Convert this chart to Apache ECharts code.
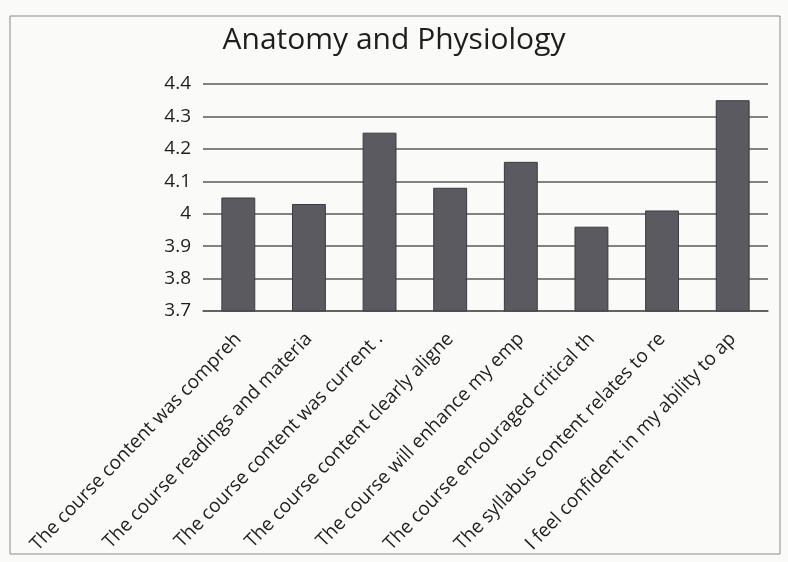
<!DOCTYPE html>
<html>
<head>
<meta charset="utf-8">
<script src="https://cdn.jsdelivr.net/npm/echarts@6/dist/echarts.min.js"></script>
<style>
  html, body { margin: 0; padding: 0; background: #fafaf8; }
  #chart { width: 788px; height: 562px; }
</style>
</head>
<body>
<div id="chart"></div>
<script>
// Survey item labels (as printed, cut off at the cell width)
const categories = [
  "The course content was compreh",
  "The course readings and materia",
  "The course content was current .",
  "The course content clearly aligne",
  "The course will enhance my emp",
  "The course encouraged critical th",
  "The syllabus content relates to re",
  "I feel confident in my ability to ap"
];

// Mean rating for each item
const meanScores = [4.05, 4.03, 4.25, 4.08, 4.16, 3.96, 4.01, 4.35];

// Value axis range
const yMin = 3.7;
const yMax = 4.4;
const yStep = 0.1;

const chart = echarts.init(document.getElementById('chart'));
const font = '"Open Sans", "Noto Sans", sans-serif';

chart.setOption({
  backgroundColor: '#fafaf8',
  animation: false,
  title: {
    text: 'Anatomy and Physiology',
    left: 'center',
    top: 20,
    textStyle: { fontFamily: font, fontSize: 30, fontWeight: 'normal', color: '#1e1e1e' }
  },
  graphic: [{
    type: 'rect',
    shape: { x: 10, y: 16, width: 770, height: 538 },
    style: { fill: 'none', stroke: '#8a8a8a', lineWidth: 1 }
  }],
  grid: { left: 203, right: 20, top: 84, bottom: 251 },
  xAxis: {
    type: 'category',
    data: categories,
    axisTick: { show: false },
    axisLine: { show: true, lineStyle: { color: '#5a5a5a', width: 1.5 } },
    axisLabel: {
      rotate: 46,
      interval: 0,
      margin: 25,
      fontFamily: font,
      fontSize: 19,
      color: '#1e1e1e'
    }
  },
  yAxis: {
    type: 'value',
    min: yMin,
    max: yMax,
    interval: yStep,
    axisLine: { show: false },
    axisTick: { show: false },
    axisLabel: {
      margin: 12,
      fontFamily: font,
      fontSize: 19,
      color: '#1e1e1e',
      formatter: v => String(Math.round(v * 10) / 10)
    },
    splitLine: { lineStyle: { color: '#5a5a5a', width: 1.5 } }
  },
  series: [{
    type: 'bar',
    data: meanScores,
    barWidth: '48%',
    itemStyle: { color: '#5b5a60', borderColor: '#3c3b40', borderWidth: 1 }
  }]
});
</script>
</body>
</html>
